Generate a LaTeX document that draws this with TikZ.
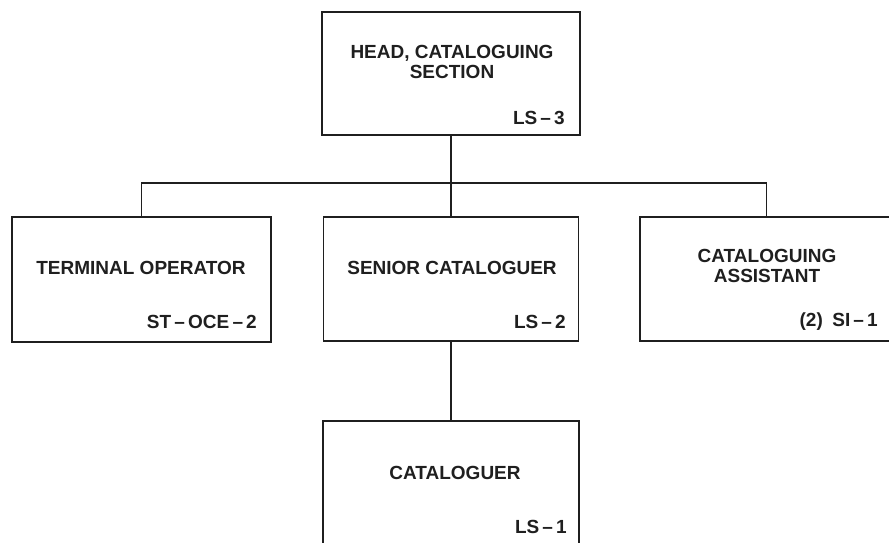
\documentclass[tikz,border=0pt]{standalone}
\usepackage{fontspec}
\setmainfont{Liberation Sans}
\usetikzlibrary{calc}
\definecolor{ink}{gray}{0.12}
\tikzset{
  orgbox/.style={draw=ink, line width=1.5pt, inner sep=0pt},
  title/.style={text=ink, font=\fontsize{19}{19.5}\selectfont\bfseries, align=center, inner sep=0pt},
  grade/.style={text=ink, font=\fontsize{19}{19.5}\selectfont\bfseries, anchor=east, inner sep=0pt},
  link/.style={draw=ink, line width=1.5pt}
}
\begin{document}
\begin{tikzpicture}[x=1pt,y=-1pt]
\useasboundingbox (0,0) rectangle (889,542);
% boxes
\node[orgbox, minimum width=258pt, minimum height=123pt] (head) at (451,73.5) {};
\node[orgbox, minimum width=259pt, minimum height=125pt] (term) at (141.5,279.5) {};
\node[orgbox, minimum width=255pt, minimum height=124pt] (senior) at (451,279) {};
\node[orgbox, minimum width=253pt, minimum height=124pt] (asst) at (766.5,279) {};
\node[orgbox, minimum width=256pt, minimum height=140pt] (cat) at (451,491) {};
% titles
\node[title] (headT) at (452,62) {HEAD, CATALOGUING\\SECTION};
\node[title] (termT) at (141,268) {TERMINAL OPERATOR};
\node[title] (seniorT) at (452,268) {SENIOR CATALOGUER};
\node[title] (asstT) at (767,266) {CATALOGUING\\ASSISTANT};
\node[title] (catT) at (455,473) {CATALOGUER};
% grades
\node[grade] (headG) at (565,118) {LS\,–\,3};
\node[grade] (termG) at (257,322) {ST\,–\,OCE\,–\,2};
\node[grade] (seniorG) at (566,322) {LS\,–\,2};
\node[grade] (asstG) at (878,322) {(2)\enspace SI\,–\,1};
\node[grade] (catG) at (567,527) {LS\,–\,1};
% connectors
\coordinate (j) at ($(head.south)+(0,47)$);
\draw[link] (head.south) -- (senior.north);
\draw[link] (term.north) |- (j) -| (asst.north);
\draw[link] (senior.south) -- (cat.north);
\end{tikzpicture}
\end{document}
